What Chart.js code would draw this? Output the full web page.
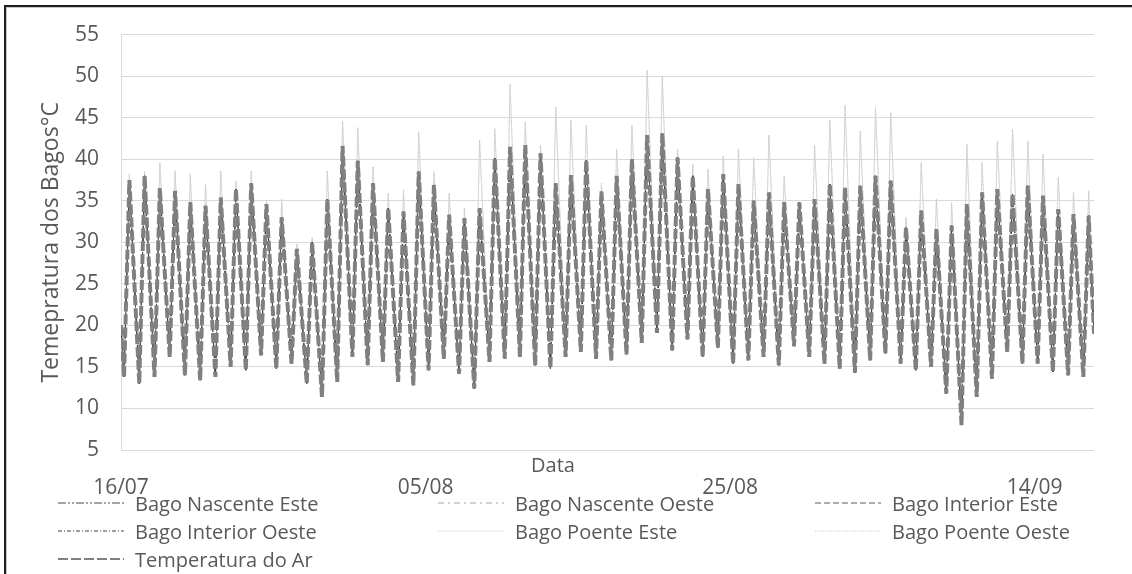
<!DOCTYPE html>
<html>
<head>
<meta charset="utf-8">
<script src="https://cdn.jsdelivr.net/npm/chart.js@4.4.1/dist/chart.umd.min.js"></script>
<style>
  html, body { margin: 0; padding: 0; background: #fff; }
  #wrap { position: relative; width: 1132px; height: 574px; overflow: hidden; font-family: 'Open Sans', sans-serif; color: #595959; }
  #frame { position: absolute; left: 4px; top: 5px; right: -10px; bottom: -10px; border-left: 2px solid #1e1e1e; border-top: 2px solid #1e1e1e; box-shadow: inset 1px 1px 0 #c8c8c8; }
  #chart { position: absolute; left: 0; top: 0; }
  #xTitle { position: absolute; left: 531px; top: 451px; font-size: 20px; line-height: 28px; }
  #legend { position: absolute; left: 58px; top: 489px; display: grid; grid-template-columns: 380px 377px auto; grid-auto-rows: 28px; font-size: 20px; }
  .item { display: flex; align-items: center; white-space: nowrap; }
  .item svg { margin-right: 11px; }
</style>
</head>
<body>
<div id="wrap">
  <div id="frame"></div>
  <canvas id="chart" width="1132" height="574"></canvas>
  <div id="xTitle">Data</div>
  <div id="legend"></div>
</div>
<script>
// x is measured in days from 16/07 00:00
var TICK_DAYS = [0, 20, 40, 60];
var TICK_LABELS = ['16/07', '05/08', '25/08', '14/09'];
var LAST_DAY = 63.9;

// time of day (fraction) of the daily minimum and maximum
var MIN_AT = 0.2;
var MAX_AT = 0.55;
var START_TEMP = 20;
var END_TEMP = 19;

// daily minima (°C), 64 days
var DAILY_MIN = [13.8, 13, 13.8, 16.2, 14, 13.4, 13.8, 15, 14.6, 16.4,
  14.8, 15.4, 13, 11.4, 13.2, 16.2, 15.2, 15.6, 13.2, 12.8,
  14.6, 16, 14.2, 12.4, 15.6, 16, 16.2, 15.2, 14.8, 16.2,
  16.8, 16, 15.8, 16.5, 17.9, 19.1, 17, 18.3, 16.2, 17.3,
  15.4, 15.8, 16.2, 15.2, 17.5, 16.2, 15.4, 14.8, 14.3, 15.8,
  16.6, 15.4, 14.6, 15, 11.8, 8, 11.4, 13.6, 16.8, 15.4,
  15.4, 14.4, 14, 13.8];

// daily maxima of the air and shaded berries (°C)
var BODY_MAX = [37.5, 38, 36.5, 36.2, 34.8, 34.4, 35.4, 36.4, 37.1, 34.6,
  33, 29.2, 30, 35.2, 41.6, 39.8, 37.1, 34.1, 33.7, 38.5,
  36.9, 33.3, 32.9, 34.1, 40.1, 41.5, 41.7, 40.7, 37.1, 38.1,
  39.9, 36.1, 38, 40, 42.9, 43.1, 40.2, 38, 36.4, 38.2,
  37, 35, 36, 34.8, 34.8, 35.2, 37, 36.6, 36.8, 38,
  37.4, 31.8, 33.8, 31.6, 32, 34.6, 36, 36.4, 35.8, 36.8,
  35.6, 34, 33.4, 33.2];

// daily maxima of the west-side (Poente) berries (°C)
var POENTE_MAX = [38.2, 38.5, 39.6, 38.6, 38.2, 37, 38.6, 37.4, 38.6, 35,
  35.2, 29.8, 30.6, 38.6, 44.6, 43.8, 39.1, 35.9, 36.3, 43.3,
  38.5, 35.9, 34.1, 42.3, 43.7, 49, 44.5, 41.7, 46.3, 44.7,
  44.1, 37.1, 41.2, 44.1, 50.7, 49.9, 41.2, 39.4, 38.8, 40.4,
  41.2, 40.2, 42.9, 38, 34.8, 41.7, 44.7, 46.5, 43.4, 46.2,
  45.6, 33, 39.6, 35.2, 34.8, 41.8, 39.6, 42.2, 43.6, 42.2,
  40.6, 37.8, 36, 36.2];

function dailyCurve(mins, maxs) {
  var pts = [{ x: 0, y: START_TEMP }];
  for (var d = 0; d < mins.length; d++) {
    pts.push({ x: d + MIN_AT, y: mins[d] });
    pts.push({ x: d + MAX_AT, y: maxs[d] });
  }
  pts.push({ x: LAST_DAY, y: END_TEMP });
  return pts;
}

function series(label, maxs, color, width, dash, order) {
  return {
    label: label,
    data: dailyCurve(DAILY_MIN, maxs),
    borderColor: color,
    borderWidth: width,
    borderDash: dash,
    order: order,
    pointRadius: 0,
    tension: 0,
    fill: false
  };
}

var datasets = [
  series('Bago Nascente Este', BODY_MAX, '#4d4d4d', 1, [8, 2, 2, 2, 2, 2], 2),
  series('Bago Nascente Oeste', BODY_MAX, '#a6a6a6', 1.2, [6, 4, 2, 4], 5),
  series('Bago Interior Este', BODY_MAX, '#595959', 1, [6, 3], 3),
  series('Bago Interior Oeste', BODY_MAX, '#404040', 1, [4, 2, 1, 2], 1),
  series('Bago Poente Este', POENTE_MAX, '#e3e3e3', 1, [], 7),
  series('Bago Poente Oeste', POENTE_MAX, '#c8c8c8', 1, [1, 1], 6),
  series('Temperatura do Ar', BODY_MAX, '#808080', 4, [10, 3], 0)
];

var chart = new Chart(document.getElementById('chart'), {
  type: 'line',
  data: { datasets: datasets },
  options: {
    responsive: false,
    animation: false,
    devicePixelRatio: 1,
    layout: { padding: { left: 0, top: 33, right: 38, bottom: 64 } },
    plugins: { legend: { display: false }, tooltip: { enabled: false } },
    scales: {
      x: {
        type: 'linear',
        min: 0,
        max: LAST_DAY,
        grid: { display: false },
        border: { display: false },
        afterBuildTicks: function (scale) {
          scale.ticks = TICK_DAYS.map(function (v) { return { value: v }; });
        },
        afterFit: function (scale) { scale.height = 60; },
        ticks: {
          autoSkip: false,
          maxRotation: 0,
          padding: 17,
          color: '#595959',
          font: { family: "'Open Sans', sans-serif", size: 21 },
          callback: function (value, index) { return TICK_LABELS[index]; }
        }
      },
      y: {
        min: 5,
        max: 55,
        grid: { color: '#d9d9d9', drawTicks: false },
        border: { display: true, color: '#d9d9d9' },
        afterFit: function (scale) { scale.width = 121; },
        ticks: {
          stepSize: 5,
          padding: 22,
          color: '#595959',
          font: { family: "'Open Sans', sans-serif", size: 21 }
        },
        title: {
          display: true,
          text: 'Temepratura dos Bagos°C',
          color: '#595959',
          padding: { top: 38, bottom: 0 },
          font: { family: "'Open Sans', sans-serif", size: 23, weight: 'normal' }
        }
      }
    }
  }
});

// legend laid out in three columns
(function buildLegend() {
  var box = document.getElementById('legend');
  chart.data.datasets.forEach(function (ds) {
    var item = document.createElement('div');
    item.className = 'item';
    var w = Math.min(ds.borderWidth, 2);
    item.innerHTML =
      '<svg width="66" height="10"><line x1="0" y1="5" x2="66" y2="5" stroke="' + ds.borderColor +
      '" stroke-width="' + w + '" stroke-dasharray="' + ds.borderDash.join(' ') + '"/></svg>' +
      '<span>' + ds.label + '</span>';
    box.appendChild(item);
  });
})();
</script>
</body>
</html>
